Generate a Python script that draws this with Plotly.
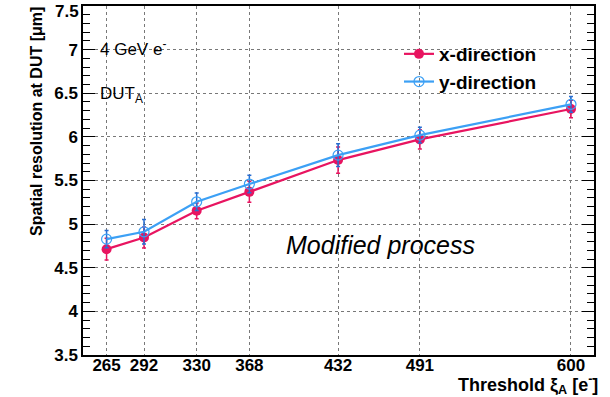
import plotly.graph_objects as go

thresholds = [265, 292, 330, 368, 432, 491, 600]
x_dir = [4.713, 4.847, 5.153, 5.37, 5.734, 5.971, 6.319]
x_err = [0.125, 0.12, 0.09, 0.12, 0.15, 0.11, 0.10]
y_dir = [4.828, 4.912, 5.256, 5.459, 5.791, 6.02, 6.373]
y_err = [0.10, 0.14, 0.10, 0.10, 0.13, 0.09, 0.09]
tick_labels = [str(t) for t in thresholds]
y_ticks = [3.5, 4, 4.5, 5, 5.5, 6, 6.5, 7, 7.5]
y_tick_labels = ["3.5", "4", "4.5", "5", "5.5", "6", "6.5", "7", "7.5"]

RED = "rgb(232,20,96)"
BLUE = "rgb(60,160,245)"
FONT = "Liberation Sans, Arial, sans-serif"

L, R, T, B = 83, 16, 6, 42
W, H = 610, 397
PW, PH = W - L - R, H - T - B

fig = go.Figure()
fig.add_trace(go.Scatter(
    x=thresholds, y=x_dir, name="x-direction", mode="lines+markers",
    line=dict(color=RED, width=2.2),
    marker=dict(color=RED, size=10, symbol="circle"),
    error_y=dict(type="data", array=x_err, color=RED, thickness=1.5, width=2),
))
fig.add_trace(go.Scatter(
    x=thresholds, y=y_dir, name="y-direction", mode="lines+markers",
    line=dict(color=BLUE, width=2.2),
    marker=dict(color=BLUE, size=10, symbol="circle-open", line=dict(width=1.2)),
    error_y=dict(type="data", array=y_err, color="rgb(40,110,210)", thickness=1.5, width=2),
))

fig.update_layout(
    width=W, height=H,
    margin=dict(l=L, r=R, t=T, b=B, autoexpand=False),
    plot_bgcolor="white", paper_bgcolor="white",
    font=dict(family=FONT, size=17, color="black"),
    showlegend=True,
    legend=dict(x=(399 - L) / PW, y=1 - (35 - T) / PH, xanchor="left", yanchor="top",
                bgcolor="rgba(0,0,0,0)", font=dict(size=19, weight="bold"),
                tracegroupgap=0, itemwidth=30),
    xaxis=dict(range=[248, 616.6], tickvals=thresholds, ticktext=tick_labels,
               showgrid=True, gridcolor="rgb(120,120,120)", griddash="dot", gridwidth=1,
               showline=True, linecolor="black", linewidth=1.5, mirror=True,
               ticks="", tickfont=dict(size=17, weight="bold"), zeroline=False,
               ticklabelstandoff=-6, automargin=False),
    yaxis=dict(range=[3.5, 7.5], tickvals=y_ticks, ticktext=y_tick_labels,
               showgrid=True, gridcolor="rgb(120,120,120)", griddash="dot", gridwidth=1,
               showline=True, linecolor="black", linewidth=1.5, mirror="ticks",
               ticks="inside", ticklen=12, tickwidth=1.3, tickcolor="black",
               minor=dict(dtick=0.1, ticks="inside", ticklen=7, tickcolor="black", tickwidth=1, showgrid=False),
               tickfont=dict(size=17, weight="bold"), zeroline=False, automargin=False),
)

# top tick label, kept just inside the page edge
fig.add_annotation(x=0, y=1, xref="paper", yref="paper", xanchor="right", yanchor="top",
                   xshift=-2, yshift=T, text=y_tick_labels[-1], showarrow=False,
                   font=dict(size=17, weight="bold"))
fig.add_annotation(x=-(L - 36) / PW, y=1 - (122 - T) / PH, xref="paper", yref="paper",
                   xanchor="center", yanchor="middle", textangle=-90,
                   text="Spatial resolution at DUT [μm]", showarrow=False,
                   font=dict(size=16, weight="bold"))
fig.add_annotation(x=1.0 + 6 / PW, y=-(384 - (T + PH)) / PH, xref="paper", yref="paper",
                   xanchor="right", yanchor="middle",
                   text="Threshold ξ<sub>A</sub> [e<sup>-</sup>]", showarrow=False,
                   font=dict(size=18, weight="bold"))
fig.add_annotation(x=(98 - L) / PW, y=1 - (48 - T) / PH, xref="paper", yref="paper",
                   xanchor="left", yanchor="middle",
                   text="4 GeV e<sup>-</sup>", showarrow=False, font=dict(size=17))
fig.add_annotation(x=(98 - L) / PW, y=1 - (95 - T) / PH, xref="paper", yref="paper",
                   xanchor="left", yanchor="middle",
                   text="DUT<sub>A</sub>", showarrow=False, font=dict(size=17))
fig.add_annotation(x=(380 - L) / PW, y=1 - (245 - T) / PH, xref="paper", yref="paper",
                   xanchor="center", yanchor="middle",
                   text="<i>Modified process</i>", showarrow=False, font=dict(size=25))

fig.write_html("out.html")
